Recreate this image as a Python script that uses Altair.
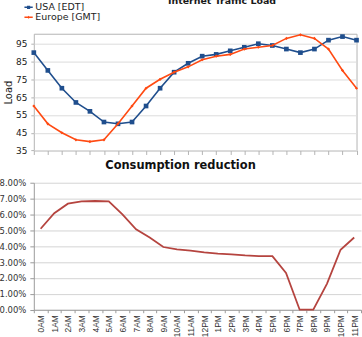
import altair as alt
import pandas as pd

# Hour-of-day categories shared by both panels
hours = ["0AM", "1AM", "2AM", "3AM", "4AM", "5AM", "6AM", "7AM", "8AM", "9AM", "10AM", "11AM",
         "12PM", "1PM", "2PM", "3PM", "4PM", "5PM", "6PM", "7PM", "8PM", "9PM", "10PM", "11PM"]

# Internet traffic load per hour
usa_load = [90, 80, 70, 62, 57, 51, 50, 51, 60, 70, 79, 84, 88, 89, 91, 93, 95, 94, 92, 90, 92, 97, 99, 97]
europe_load = [60, 50, 45, 41, 40, 41, 50, 60, 70, 75, 79, 82, 86, 88, 89, 92, 93, 94, 98, 100, 98, 92, 80, 70]
series = ["USA [EDT]", "Europe [GMT]"]
series_colors = ["#1f4e8d", "#ff4a12"]
marker_shapes = ["square", "diamond"]
marker_sizes = [22, 10]
load_ticks = [35, 45, 55, 65, 75, 85, 95]

# Consumption reduction per hour, in percent
reduction_pct = [5.10, 6.08, 6.68, 6.83, 6.85, 6.83, 6.01, 5.07, 4.55, 3.95, 3.80, 3.72,
                 3.61, 3.53, 3.49, 3.42, 3.38, 3.38, 2.32, 0.0, 0.0, 1.63, 3.78, 4.55]
reduction_ticks = [0.0, 0.01, 0.02, 0.03, 0.04, 0.05, 0.06, 0.07, 0.08]

load_df = pd.DataFrame({
    "hour": hours * 2,
    "load": usa_load + europe_load,
    "series": [series[0]] * len(hours) + [series[1]] * len(hours),
})
red_df = pd.DataFrame({"hour": hours, "reduction": [v / 100 for v in reduction_pct]})

# ---------- top panel: traffic load ----------
x_top = alt.X(
    "hour:O", sort=hours,
    scale=alt.Scale(type="point", padding=0),
    axis=alt.Axis(labels=False, title=None, ticks=True, tickSize=4, tickColor="#b3b3b3",
                  domain=False, grid=False),
)
y_top = alt.Y(
    "load:Q",
    scale=alt.Scale(domain=[35, 100.6], nice=False, zero=False),
    axis=alt.Axis(values=load_ticks, title="Load", titleFont="DejaVu Sans", titleFontSize=10,
                  titleFontWeight="normal", titleColor="#222222", titlePadding=2,
                  labelFont="DejaVu Sans", labelFontSize=9, labelColor="#222222", labelPadding=4,
                  tickSize=3, tickColor="#b3b3b3", domain=False,
                  gridColor="#dcdcdc", gridWidth=1),
)

# legend symbols: short line with the series marker
legend_paths = [
    "M-1.7,-0.3H1.7V0.3H-1.7Z M-0.65,-0.65H0.65V0.65H-0.65Z",
    "M-1.7,-0.3H1.7V0.3H-1.7Z M0,-0.6L0.6,0L0,0.6L-0.6,0Z",
]
legend_spec = alt.Legend(
    title=None, orient="none", legendX=-10, legendY=-31.3, symbolOpacity=1,
    symbolSize=24, labelFont="DejaVu Sans", labelFontSize=9.5, labelColor="#222222",
    rowPadding=-2, labelOffset=2, symbolStrokeWidth=0,
)

layers = []
for name, color, shape, size in zip(series, series_colors, marker_shapes, marker_sizes):
    base = alt.Chart(load_df).transform_filter(alt.datum.series == name)
    layers.append(base.mark_line(color=color, strokeWidth=1.6).encode(x=x_top, y=y_top))
    layers.append(base.mark_point(shape=shape, filled=True, color=color, size=size, opacity=1)
                  .encode(x=x_top, y=y_top))

legend_layer = alt.Chart(load_df).mark_point(filled=True, opacity=0).encode(
    x=x_top, y=y_top,
    color=alt.Color("series:N", sort=series,
                    scale=alt.Scale(domain=series, range=series_colors), legend=legend_spec),
    shape=alt.Shape("series:N", sort=series,
                    scale=alt.Scale(domain=series, range=legend_paths), legend=legend_spec),
)

top = alt.layer(*layers, legend_layer).properties(
    width=324.5, height=117.4,
    title=alt.TitleParams("Internet Traffic Load", font="DejaVu Sans", fontSize=9.5,
                          fontWeight="bold", color="#1a1a1a", anchor="middle", dx=27,
                          frame="group", offset=18.6, baseline="alphabetic"),
    view=alt.ViewBackground(stroke="#b3b3b3", strokeWidth=1),
)

# ---------- bottom panel: consumption reduction ----------
bottom = alt.Chart(red_df).mark_line(color="#b5443f", strokeWidth=1.8).encode(
    x=alt.X("hour:O", sort=hours,
            scale=alt.Scale(type="band", paddingInner=0, paddingOuter=0),
            axis=alt.Axis(title=None, labelAngle=270, tickBand="extent", tickSize=3,
                          tickColor="#9a9a9a", domainColor="#9a9a9a", labelPadding=2,
                          labelFont="Liberation Sans", labelFontSize=8.5, labelColor="#333333",
                          grid=False)),
    y=alt.Y("reduction:Q", scale=alt.Scale(domain=[0, 0.08], nice=False),
            axis=alt.Axis(format=".2%", values=reduction_ticks, title=None, tickSize=4,
                          tickColor="#9a9a9a", domainColor="#9a9a9a", labelPadding=4,
                          labelFont="DejaVu Sans", labelFontSize=8.5, labelColor="#333333",
                          gridColor="#d4d4d4", gridWidth=1)),
).properties(
    width=329, height=127.7,
    title=alt.TitleParams("Consumption reduction", font="DejaVu Sans", fontSize=11.5,
                          fontWeight="bold", color="#111111", anchor="middle", dx=-17,
                          frame="group", offset=-1.7, baseline="alphabetic"),
    view=alt.ViewBackground(stroke="transparent"),
)

chart = alt.vconcat(top, bottom, spacing=2.8).properties(
    padding={"left": -2, "top": -6, "right": 0, "bottom": 0},
    background="white",
)

chart.save("out.html", embed_options={"renderer": "svg", "actions": False})
